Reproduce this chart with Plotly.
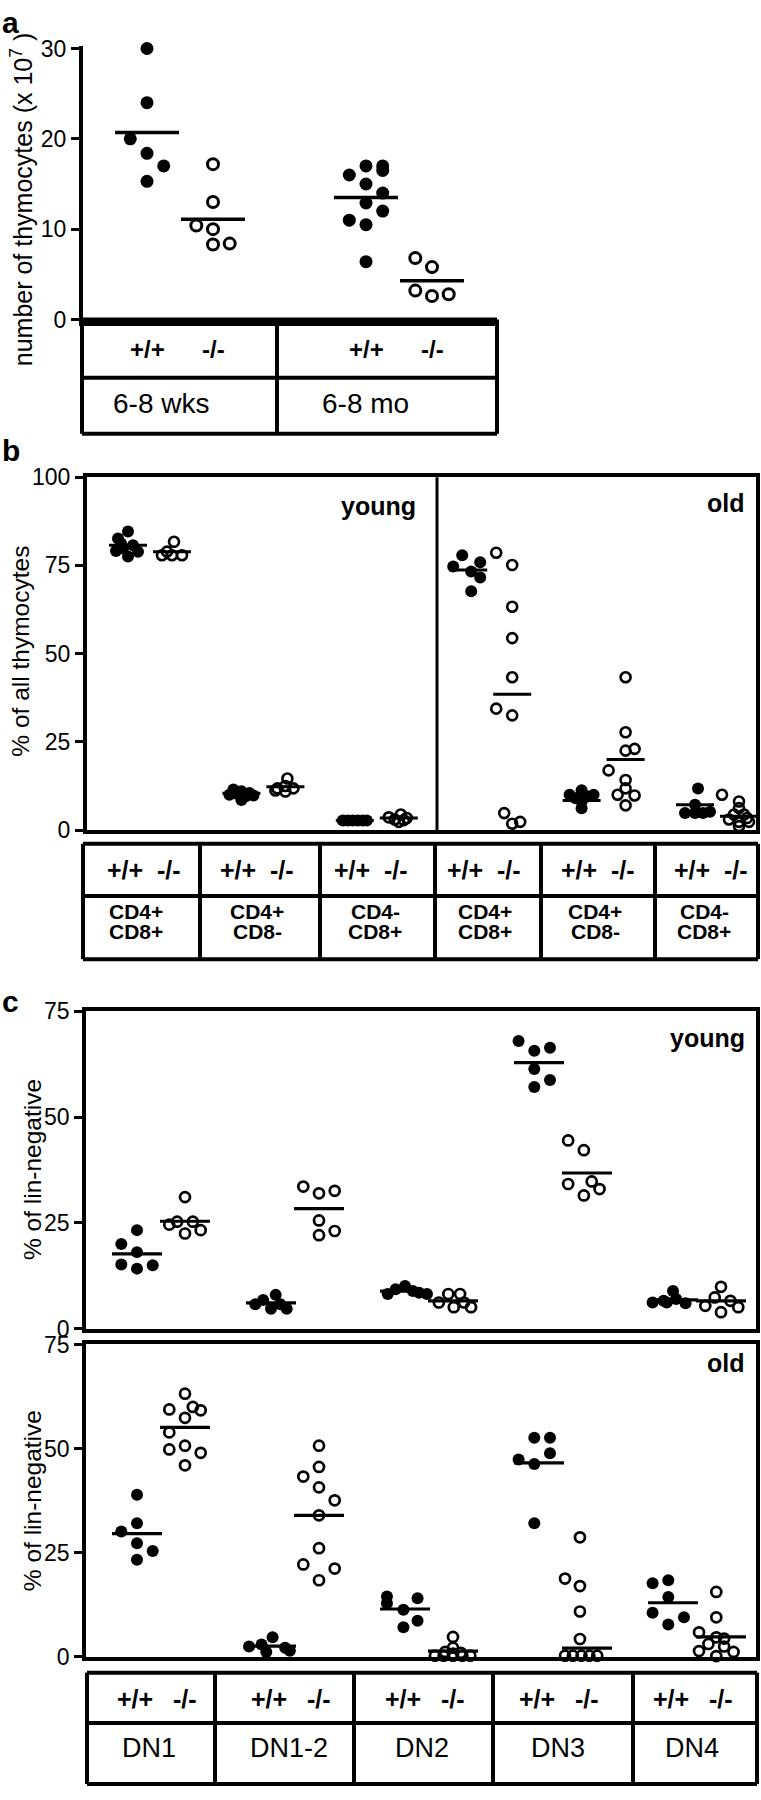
import plotly.graph_objects as go

W, H = 761, 1800
FONT = "Liberation Sans, Arial, Helvetica, sans-serif"

# ---------------- panel a: number of thymocytes ----------------
A_AGES = ["6-8 wks", "6-8 mo"]
A_GENO = ["+/+", "-/-"]
A_TICKS = [0, 10, 20, 30]
A_WKS_WT = [30.0, 24.0, 20.0, 18.4, 17.0, 15.3]
A_WKS_WT_DX = [0, 0, -1, 0, 1, 0]
A_WKS_KO = [17.2, 13.0, 10.4, 10.0, 8.3, 8.4]
A_WKS_KO_DX = [0, 0, -1, 0, 0, 1]
A_MO_WT = [16.0, 17.0, 17.0, 16.5, 15.0, 14.0, 12.9, 12.0, 11.0, 10.5, 6.4]
A_MO_WT_DX = [-1, 0, 1, 1, 0, 1, 0, 1, -1, 0, 0]
A_MO_KO = [6.8, 5.8, 3.2, 2.6, 2.8]
A_MO_KO_DX = [-1, 0, -1, 0, 1]
A_MEANS = [20.7, 11.1, 13.5, 4.3]

# ---------------- panel b: thymocyte subsets ----------------
B_TICKS = [0, 25, 50, 75, 100]
B_AGES = ["young", "old"]
B_SUB_TOP = ["CD4+", "CD4+", "CD4-", "CD4+", "CD4+", "CD4-"]
B_SUB_BOT = ["CD8+", "CD8-", "CD8+", "CD8+", "CD8-", "CD8+"]
BY_DP_WT = [84.6, 82.6, 81.2, 80.7, 79.1, 78.9, 77.5, 79.8]
BY_DP_WT_DX = [0, -1, -0.7, 0.5, -1.2, 1, 0, -0.5]
BY_DP_KO = [81.7, 78.9, 77.9, 77.9, 77.9]
BY_DP_KO_DX = [0.2, -0.5, -1, 0, 1]
BY_CD4_WT = [11.5, 11.0, 10.5, 10.0, 9.8, 9.5, 8.5, 10.2]
BY_CD4_WT_DX = [-0.8, 0, 0.8, -1.2, 1.2, 0.4, 0, -0.4]
BY_CD4_KO = [14.6, 12.5, 11.8, 11.8, 10.9, 11.2]
BY_CD4_KO_DX = [0.2, 0, -0.8, 0.8, 0, -1]
BY_CD8_WT = [2.7, 2.7, 2.7, 2.7, 2.7, 2.7]
BY_CD8_WT_DX = [-1.2, -0.7, -0.2, 0.3, 0.8, 1.2]
BY_CD8_KO = [4.4, 3.6, 3.4, 2.3, 3.0, 2.8]
BY_CD8_KO_DX = [0.2, -1, 0.8, 0, -0.4, 0.5]
BO_DP_WT = [77.9, 74.7, 75.9, 73.3, 71.6, 67.7]
BO_DP_WT_DX = [-0.6, -1.5, 1.2, 0.3, 1.2, 0.3]
BO_DP_KO = [78.6, 75.1, 63.3, 54.4, 43.3, 34.4, 32.5, 4.8, 1.8, 2.3]
BO_DP_KO_DX = [-1.6, 0, 0, 0, 0, -1.6, 0, -0.8, 0, 0.8]
BO_CD4_WT = [11.3, 10.0, 10.0, 9.0, 9.5, 8.1, 6.2]
BO_CD4_WT_DX = [0, -1.2, 1.2, -0.6, 0.6, 0, 0]
BO_CD4_KO = [43.3, 27.7, 22.5, 23.0, 16.9, 14.2, 10.0, 9.8, 11.8, 7.0]
BO_CD4_KO_DX = [0, 0, 0, 0.9, -1.7, 0, -0.8, 0.9, 0, 0]
BO_CD8_WT = [11.8, 7.2, 4.8, 4.8, 4.8, 5.2]
BO_CD8_WT_DX = [0.3, 0, -1, 0, 0.8, 1.5]
BO_CD8_KO = [10.0, 8.1, 6.2, 4.4, 4.4, 3.0, 2.3, 2.3, 1.1, 3.4]
BO_CD8_KO_DX = [-1.7, 0, 0, -0.5, 0.5, -1, 0, 1, 0, 0.8]
B_MEANS = [80.7, 78.9, 10.4, 12.3, 2.7, 3.4, 73.7, 38.5, 8.4, 20.0, 7.2, 3.9]

# ---------------- panel c: DN subsets ----------------
C_TICKS = [0, 25, 50, 75]
C_STAGES = ["DN1", "DN1-2", "DN2", "DN3", "DN4"]
CY_DN1_WT = [23.3, 20.0, 18.1, 15.2, 14.2, 15.0]
CY_DN1_WT_DX = [0, -1, 0, -1, 0, 1]
CY_DN1_KO = [31.1, 24.6, 25.3, 25.3, 22.5, 23.3]
CY_DN1_KO_DX = [0, -1, -0.5, 0.5, 0, 1]
CY_DN12_WT = [5.8, 6.8, 8.0, 4.7, 4.7, 5.8]
CY_DN12_WT_DX = [-1, -0.5, 0.3, 0, 1, 0.6]
CY_DN12_KO = [33.6, 32.0, 32.6, 25.6, 22.1, 23.1]
CY_DN12_KO_DX = [-1, 0, 1, 0, 0, 1]
CY_DN2_WT = [8.2, 9.3, 10.1, 8.9, 8.5, 8.2]
CY_DN2_WT_DX = [-1.1, -0.6, 0, 0.5, 0.9, 1.4]
CY_DN2_KO = [6.2, 8.2, 5.1, 8.2, 6.2, 5.1]
CY_DN2_KO_DX = [-0.9, -0.3, 0.05, 0.45, 0.7, 1.15]
CY_DN3_WT = [68.0, 65.7, 66.4, 61.4, 58.8, 57.1]
CY_DN3_WT_DX = [-1.3, -0.3, 0.7, -0.3, 0.7, -0.3]
CY_DN3_KO = [44.5, 42.2, 34.2, 31.5, 34.8, 33.0]
CY_DN3_KO_DX = [-1.2, -0.2, -1.2, -0.2, 0.3, 0.8]
CY_DN4_WT = [6.2, 6.6, 8.9, 7.0, 6.0, 6.2]
CY_DN4_WT_DX = [-1.3, -0.6, 0, 0.2, 0.8, -0.4]
CY_DN4_KO = [9.9, 7.4, 5.4, 6.6, 3.9, 5.1]
CY_DN4_KO_DX = [0, -0.4, -1, 0.6, 0, 1.1]
CY_MEANS = [17.7, 25.4, 6.1, 28.4, 8.9, 6.6, 62.9, 36.8, 6.8, 6.6]

CO_DN1_WT = [38.9, 30.1, 32.1, 27.3, 25.4, 23.3]
CO_DN1_WT_DX = [0, -1, 0, 0, 1, 0]
CO_DN1_KO = [63.2, 59.4, 60.0, 59.2, 57.4, 53.9, 49.8, 50.7, 49.0, 46.0]
CO_DN1_KO_DX = [0, -1, 0.5, 1, 0, -1, -1, 0, 1, 0]
CO_DN12_WT = [4.7, 3.0, 2.5, 2.2, 1.2, 1.5]
CO_DN12_WT_DX = [0.1, -0.6, -1.4, 0.9, -0.3, 1.2]
CO_DN12_KO = [50.7, 45.6, 43.3, 40.7, 37.6, 34.0, 26.1, 22.2, 21.2, 18.4]
CO_DN12_KO_DX = [0, 0, -1, 0, 1, 0, 0, -1, 1, 0]
CO_DN2_WT = [14.5, 12.9, 11.3, 14.1, 8.7, 7.1]
CO_DN2_WT_DX = [-1.15, -1.15, -0.1, 0.8, 0.8, -0.1]
CO_DN2_KO = [4.8, 2.2, 1.2, 1.0, 0.3, 0.3, 0.3, 0.3, 0.3, 0.8]
CO_DN2_KO_DX = [0, 0, -0.5, 0.5, -1.15, -0.6, 0, 0.6, 1.1, 0]
CO_DN3_WT = [52.6, 52.6, 48.9, 47.4, 46.3, 32.1]
CO_DN3_WT_DX = [-0.3, 0.7, 0.7, -1.3, -0.3, -0.3]
CO_DN3_KO = [28.7, 18.8, 17.0, 10.9, 4.3, 0.3, 0.3, 0.3, 0.3, 0.3]
CO_DN3_KO_DX = [-0.45, -1.4, -0.45, -0.45, -0.45, -1.4, -0.9, -0.35, 0.15, 0.65]
CO_DN4_WT = [17.7, 18.4, 14.4, 10.6, 7.8, 9.5]
CO_DN4_WT_DX = [-1.3, -0.3, -0.3, -1.3, -0.3, 0.7]
CO_DN4_KO = [15.6, 9.5, 5.9, 4.7, 4.4, 3.1, 2.5, 1.4, 0.2, 1.2]
CO_DN4_KO_DX = [-0.3, -0.3, -1.4, -0.3, 0.2, -0.8, 0.2, -1.4, -0.3, 0.8]
CO_MEANS = [29.6, 55.1, 2.6, 34.0, 11.5, 1.4, 46.6, 2.1, 13.0, 4.8]


def px(x):
    return x / W


def py(y):
    return 1 - y / H


fig = go.Figure()


def add_dots(xa, ya, sets, means, unit, goff, step, half, size, lw, mw):
    # sets are ordered group by group: +/+ then -/-
    for k, (vals, dx) in enumerate(sets):
        g, geno = divmod(k, 2)
        c = g + (goff if geno else -goff) / unit
        filled = geno == 0
        fig.add_trace(go.Scatter(
            x=[c + d * step / unit for d in dx], y=vals, xaxis=xa, yaxis=ya,
            mode="markers", cliponaxis=False, showlegend=False, hoverinfo="skip",
            marker=dict(symbol="circle" if filled else "circle-open",
                        size=size if filled else size - 2, color="black",
                        line=dict(color="black", width=0 if filled else lw)),
        ))
        fig.add_trace(go.Scatter(
            x=[c - half / unit, c + half / unit], y=[means[k], means[k]],
            xaxis=xa, yaxis=ya, mode="lines", cliponaxis=False,
            showlegend=False, hoverinfo="skip",
            line=dict(color="black", width=mw),
        ))


# panel a
add_dots("x", "y",
         [(A_WKS_WT, A_WKS_WT_DX), (A_WKS_KO, A_WKS_KO_DX),
          (A_MO_WT, A_MO_WT_DX), (A_MO_KO, A_MO_KO_DX)],
         A_MEANS, unit=219, goff=33, step=16.7, half=32, size=13, lw=3, mw=3.5)

# panel b
add_dots("x2", "y2",
         [(BY_DP_WT, BY_DP_WT_DX), (BY_DP_KO, BY_DP_KO_DX),
          (BY_CD4_WT, BY_CD4_WT_DX), (BY_CD4_KO, BY_CD4_KO_DX),
          (BY_CD8_WT, BY_CD8_WT_DX), (BY_CD8_KO, BY_CD8_KO_DX),
          (BO_DP_WT, BO_DP_WT_DX), (BO_DP_KO, BO_DP_KO_DX),
          (BO_CD4_WT, BO_CD4_WT_DX), (BO_CD4_KO, BO_CD4_KO_DX),
          (BO_CD8_WT, BO_CD8_WT_DX), (BO_CD8_KO, BO_CD8_KO_DX)],
         B_MEANS, unit=113.4, goff=22, step=10, half=19, size=12, lw=2.6, mw=3)

# panel c young / old
add_dots("x3", "y3",
         [(CY_DN1_WT, CY_DN1_WT_DX), (CY_DN1_KO, CY_DN1_KO_DX),
          (CY_DN12_WT, CY_DN12_WT_DX), (CY_DN12_KO, CY_DN12_KO_DX),
          (CY_DN2_WT, CY_DN2_WT_DX), (CY_DN2_KO, CY_DN2_KO_DX),
          (CY_DN3_WT, CY_DN3_WT_DX), (CY_DN3_KO, CY_DN3_KO_DX),
          (CY_DN4_WT, CY_DN4_WT_DX), (CY_DN4_KO, CY_DN4_KO_DX)],
         CY_MEANS, unit=134, goff=24, step=15.7, half=25, size=12, lw=2.7, mw=3.2)
add_dots("x4", "y4",
         [(CO_DN1_WT, CO_DN1_WT_DX), (CO_DN1_KO, CO_DN1_KO_DX),
          (CO_DN12_WT, CO_DN12_WT_DX), (CO_DN12_KO, CO_DN12_KO_DX),
          (CO_DN2_WT, CO_DN2_WT_DX), (CO_DN2_KO, CO_DN2_KO_DX),
          (CO_DN3_WT, CO_DN3_WT_DX), (CO_DN3_KO, CO_DN3_KO_DX),
          (CO_DN4_WT, CO_DN4_WT_DX), (CO_DN4_KO, CO_DN4_KO_DX)],
         CO_MEANS, unit=134, goff=24, step=15.7, half=25, size=12, lw=2.7, mw=3.2)


def xax(x0, x1, c0, unit, anchor, lw, mirror=False):
    return dict(domain=[px(x0), px(x1)], range=[(x0 - c0) / unit, (x1 - c0) / unit],
                anchor=anchor, showline=True, linecolor="black", linewidth=lw,
                mirror=mirror, showticklabels=False, ticks="", showgrid=False,
                zeroline=False, fixedrange=True)


def yax(top, bottom, rng, ticks, anchor, lw, mirror=False):
    return dict(domain=[py(bottom), py(top)], range=rng, anchor=anchor,
                showline=True, linecolor="black", linewidth=lw, mirror=mirror,
                tickvals=ticks, ticks="outside", ticklen=8, tickwidth=3,
                tickcolor="black", tickfont=dict(size=23, color="black"),
                showgrid=False, zeroline=False, fixedrange=True)


shapes = []


def table(xs, ys, lw=4):
    for x in xs:
        shapes.append(dict(type="line", xref="paper", yref="paper",
                           x0=px(x), x1=px(x), y0=py(ys[0]), y1=py(ys[-1]),
                           line=dict(color="black", width=lw)))
    for y in ys:
        shapes.append(dict(type="line", xref="paper", yref="paper",
                           x0=px(xs[0]), x1=px(xs[-1]), y0=py(y), y1=py(y),
                           line=dict(color="black", width=lw)))


table([82, 277, 497], [311, 370, 427])
table([83, 200, 320, 435, 541, 655, 758], [843, 896, 960])
table([87, 215, 354, 493, 633, 757], [1684, 1735, 1797])
# young / old divider inside panel b
shapes.append(dict(type="line", xref="paper", yref="paper", x0=px(437), x1=px(437),
                   y0=py(829), y1=py(471), line=dict(color="black", width=3)))

ann = []


def text(x, y, s, size, bold=False, xref="paper", xanchor="center", angle=0):
    ann.append(dict(x=x, y=y, xref=xref, yref="paper", text=f"<b>{s}</b>" if bold else s,
                    showarrow=False, xanchor=xanchor, yanchor="middle", textangle=angle,
                    font=dict(size=size, color="black", family=FONT)))


# panel letters
text(0, py(10), "a", 30, bold=True, xanchor="left")
text(0, py(444), "b", 30, bold=True, xanchor="left")
text(0, py(1003), "c", 30, bold=True, xanchor="left")

# y titles
text(px(22), py(190), "number of thymocytes (x 10<sup>7</sup> )", 25, angle=-90)
text(px(21), py(648), "% of all thymocytes", 24.5, angle=-90)
text(px(32), py(1174), "% of lin-negative", 24.5, angle=-90)
text(px(32), py(1510), "% of lin-negative", 24.5, angle=-90)

# age labels
text(px(418), py(500), B_AGES[0], 25, bold=True, xanchor="right")
text(px(747), py(497), B_AGES[1], 25, bold=True, xanchor="right")
text(px(747), py(1040), B_AGES[0], 25, bold=True, xanchor="right")
text(px(747), py(1370), B_AGES[1], 25, bold=True, xanchor="right")

# table a
for g in range(len(A_AGES)):
    text(g - 33 / 219, py(341), A_GENO[0], 24, bold=True, xref="x")
    text(g + 33 / 219, py(341), A_GENO[1], 24, bold=True, xref="x")
for lab, cx in zip(A_AGES, [161, 365]):
    text(px(cx), py(396), lab, 28)

# table b
for g in range(len(B_SUB_TOP)):
    text(g - 25 / 113.4, py(870), A_GENO[0], 25, bold=True, xref="x2")
    text(g + 19 / 113.4, py(870), A_GENO[1], 25, bold=True, xref="x2")
for lab1, lab2, cx in zip(B_SUB_TOP, B_SUB_BOT, [136, 257, 375, 485, 595, 704]):
    text(px(cx), py(912), lab1, 21, bold=True)
    text(px(cx), py(932), lab2, 21, bold=True)

# table c
for g in range(len(C_STAGES)):
    text(g - 26 / 134, py(1711), A_GENO[0], 25, bold=True, xref="x4")
    text(g + 24 / 134, py(1711), A_GENO[1], 25, bold=True, xref="x4")
for lab, cx in zip(C_STAGES, [149, 289, 422, 558, 692]):
    text(px(cx), py(1760), lab, 27)

fig.update_layout(
    width=W, height=H, margin=dict(l=0, r=0, t=0, b=0),
    paper_bgcolor="white", plot_bgcolor="white", showlegend=False,
    font=dict(family=FONT, color="black", size=23),
    xaxis=xax(83, 497, 180, 219, "y", 6),
    yaxis=yax(33, 311, [0, 30.33], A_TICKS, "x", 4),
    xaxis2=xax(87, 756, 150, 113.4, "y2", 4, mirror=True),
    yaxis2=yax(471, 829, [0, 100], B_TICKS, "x2", 4, mirror=True),
    xaxis3=xax(86, 756, 161, 134, "y3", 3.5, mirror=True),
    yaxis3=yax(1013, 1335, [0, 75], C_TICKS, "x3", 3.5, mirror=True),
    xaxis4=xax(86, 756, 161, 134, "y4", 3.5, mirror=True),
    yaxis4=yax(1351, 1668, [0, 75], C_TICKS, "x4", 3.5, mirror=True),
    shapes=shapes, annotations=ann,
)

fig.write_html(
    "out.html",
    config={"displayModeBar": False},
    post_script="document.body.style.margin='0';document.body.style.overflow='hidden';",
)
